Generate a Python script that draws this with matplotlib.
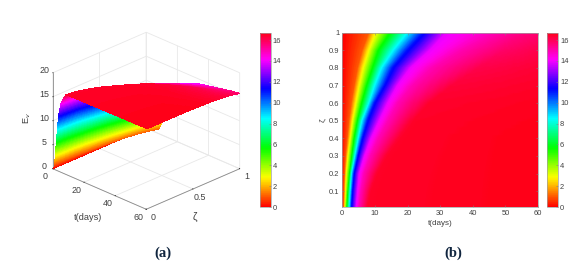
import numpy as np
import matplotlib
matplotlib.use("Agg")
import matplotlib.pyplot as plt
from matplotlib.cm import ScalarMappable
from matplotlib.colors import Normalize

W, H = 587, 267
plt.rcParams['font.family'] = ['Liberation Sans', 'DejaVu Sans']

# Values: the time (days) at which E_v reaches each level,
# for each zeta row.  The finer mesh below only exists so the surface can be shaded.
zeta = [0.01, 0.1, 0.2, 0.3, 0.4, 0.5, 0.6, 0.7, 0.8, 0.9, 1.0]
levels = [0.0, 1.0, 2.8, 5.6, 8.3, 11.1, 13.9, 15.0]
t_at_level = [
    [0, 0, 0, 0, 0, 0, 0, 0, 0, 0, 0],
    [0.6, 0.7, 0.9, 1.2, 1.7, 2.2, 2.9, 3.8, 4.8, 6.2, 8.2],
    [1.0, 1.2, 1.4, 1.9, 2.6, 3.3, 4.3, 5.3, 6.5, 8.2, 10.3],
    [1.6, 1.9, 2.4, 3.1, 3.8, 4.8, 6.1, 7.6, 9.4, 11.2, 14.8],
    [2.3, 2.6, 3.0, 4.0, 5.0, 6.1, 8.2, 9.9, 12.0, 15.5, 19.8],
    [3.0, 3.3, 3.8, 5.0, 6.3, 7.9, 10.0, 13.0, 15.5, 20.0, 25.0],
    [4.4, 4.8, 5.3, 6.9, 8.9, 11.4, 14.0, 17.0, 21.0, 27.0, 32.0],
    [5.5, 6.0, 7.0, 9.0, 11.5, 14.5, 17.5, 22.0, 28.0, 37.0, 48.0],
]
t_mid = [8, 9, 11, 14, 18, 22, 27, 34, 42, 50, 54]
E_mid = [16.5, 16.5, 16.5, 16.5, 16.5, 16.5, 16.45, 16.3, 16.1, 15.8, 15.4]
t_end = [60] * 11
E_end = [16.7, 16.7, 16.7, 16.7, 16.7, 16.65, 16.6, 16.5, 16.35, 16.1, 15.7]
vmax = 16.7
t_ticks = [0, 10, 20, 30, 40, 50, 60]
t_ticks_3d = [0, 20, 40, 60]
zeta_ticks_3d = [0, 0.5, 1]
zeta_ticks = [0.1, 0.2, 0.3, 0.4, 0.5, 0.6, 0.7, 0.8, 0.9, 1]
E_ticks_3d = [0, 5, 10, 15, 20]
cbar_ticks = [0, 2, 4, 6, 8, 10, 12, 14, 16]

T = np.array(t_at_level + [t_mid, t_end], float)
E = np.array([[v] * len(zeta) for v in levels] + [E_mid, E_end], float)
Z = np.tile(np.array(zeta), (T.shape[0], 1))


def fine(M, nr=24, nc=10):
    r0 = np.arange(M.shape[0]); c0 = np.arange(M.shape[1])
    r1 = np.linspace(0, r0[-1], (len(r0) - 1) * nr + 1)
    c1 = np.linspace(0, c0[-1], (len(c0) - 1) * nc + 1)
    A = np.array([np.interp(c1, c0, row) for row in M])
    return np.array([np.interp(r1, r0, col) for col in A.T]).T


TF, EF, ZF = fine(T), fine(E), fine(Z)
norm = Normalize(0, vmax)
cmap = plt.get_cmap('hsv')
GRAY = '#404040'


def rect(x0, y0, x1, y1):
    return [x0 / W, 1 - y1 / H, (x1 - x0) / W, (y1 - y0) / H]


fig = plt.figure(figsize=(W / 100, H / 100), dpi=100, facecolor='white')

# --- (a) ---
size = 240
cx, cy = 143, 124
ax = fig.add_axes(rect(cx - size / 2, cy - size / 2, cx + size / 2, cy + size / 2),
                  projection='3d', proj_type='ortho', facecolor='none')
ax.view_init(elev=25.7, azim=-45)
ax.set_box_aspect((1, 1, 0.806), zoom=0.87)
ax.set_xlim(0, 60); ax.set_ylim(0, 1); ax.set_zlim(0, 20)
fc = cmap(norm((EF[:-1, :-1] + EF[1:, 1:]) / 2))
ax.plot_surface(TF, ZF, EF, rstride=1, cstride=1, facecolors=fc, linewidth=0,
                antialiased=False, shade=False)
ax.set_xticks(t_ticks_3d); ax.set_yticks(zeta_ticks_3d); ax.set_zticks(E_ticks_3d)
ax.set_yticklabels(['0', '0.5', '1'])
for a in (ax.xaxis, ax.yaxis, ax.zaxis):
    a.set_pane_color((1, 1, 1, 0))
    a.pane.set_edgecolor('#e4e4e4')
    a._axinfo['grid'].update(color='#e8e8e8', linewidth=0.6)
    a.line.set_color('#8a8a8a')
    a.line.set_linewidth(0.6)
    a._axinfo['tick'].update(inward_factor=0.0, outward_factor=0.04)
    a._axinfo['tick']['linewidth'] = {True: 0.5, False: 0.5}
    a._axinfo['tick']['color'] = '#8a8a8a'
ax.zaxis.set_ticks_position('lower')
ax.tick_params(labelsize=6.4, labelcolor=GRAY, pad=-4)
ax.tick_params(axis='x', pad=-1)
ax.tick_params(axis='y', pad=-1)
for lb in ax.get_xticklabels():
    lb.set_ha('center'); lb.set_va('baseline')
for lb in ax.get_yticklabels():
    lb.set_ha('center'); lb.set_va('baseline')
for lb in ax.get_zticklabels():
    lb.set_va('baseline')
fig.text(88 / W, 1 - 217 / H, 't(days)', fontsize=6.6, color=GRAY, ha='center', va='center')
fig.text(195 / W, 1 - 217 / H, 'ζ', fontsize=7.5, color=GRAY, ha='center', va='center')
fig.text(27 / W, 1 - 118 / H, 'E$_v$', fontsize=6.6, color=GRAY, ha='center', va='center',
         rotation=90)

sm = ScalarMappable(norm=norm, cmap=cmap)


def add_cbar(x0, x1):
    cax = fig.add_axes(rect(x0, 32.7, x1, 207))
    cb = fig.colorbar(sm, cax=cax)
    cb.set_ticks(cbar_ticks)
    cb.ax.tick_params(direction='in', length=1.5, width=0.4, labelsize=5.4,
                      labelcolor=GRAY, color='#808080', pad=1.5)
    cb.outline.set_edgecolor('#a0a0a0')
    cb.outline.set_linewidth(0.5)


add_cbar(260, 270.5)

# --- (b) ---
bx = fig.add_axes(rect(342.3, 32.7, 538, 207))
bx.pcolormesh(TF, ZF, EF, cmap=cmap, norm=norm, shading='gouraud', rasterized=True)
bx.set_xlim(0, 60); bx.set_ylim(0.01, 1)
bx.set_xticks(t_ticks); bx.set_yticks(zeta_ticks)
bx.set_yticklabels(['0.1', '0.2', '0.3', '0.4', '0.5', '0.6', '0.7', '0.8', '0.9', '1'])
bx.tick_params(direction='in', length=1.5, width=0.4, labelsize=5.4, labelcolor=GRAY,
               color='#808080', pad=2, top=True, right=True)
for s in bx.spines.values():
    s.set_color('#a0a0a0'); s.set_linewidth(0.5)
bx.set_xlabel('t(days)', fontsize=5.8, color=GRAY, labelpad=2)
bx.set_ylabel('ζ', fontsize=6, color=GRAY, labelpad=2)
add_cbar(547, 558)

fig.text(163 / W, 1 - 253 / H, '(a)', family='Liberation Serif', weight='bold', fontsize=10.5,
         ha='center', va='center', color='#10253f')
fig.text(453 / W, 1 - 253 / H, '(b)', family='Liberation Serif', weight='bold', fontsize=10.5,
         ha='center', va='center', color='#10253f')

fig.savefig('out.png', dpi=100, facecolor='white')
